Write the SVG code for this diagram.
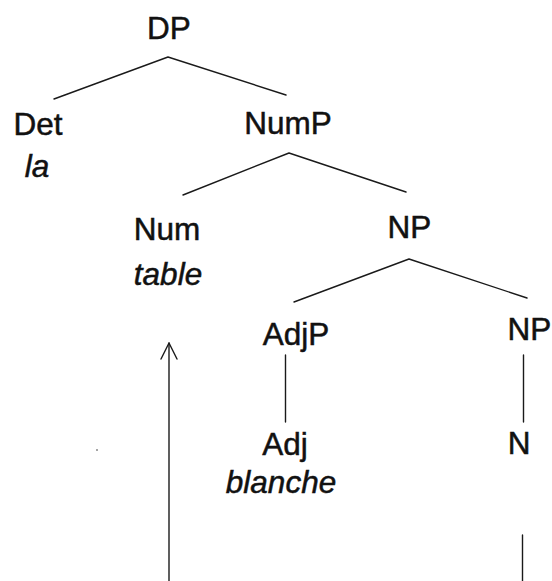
<svg xmlns="http://www.w3.org/2000/svg" width="552" height="581" viewBox="0 0 552 581">
<defs>
<style>
.t{font-family:"Liberation Sans",Arial,sans-serif;font-size:31.5px;fill:#111;stroke:#111;stroke-width:0.5;text-anchor:middle}
.i{font-style:italic}
.e{stroke:#1a1a1a;stroke-width:1.4;fill:none;stroke-linecap:round;stroke-linejoin:round}
</style>
</defs>
<rect width="552" height="581" fill="#fff"/>
<g id="connectors">
<polyline class="e" points="54,99 168,57 286,95"/>
<polyline class="e" points="183,195 289,153 406,192"/>
<polyline class="e" points="294,302 409,259 527,298"/>
<line class="e" x1="285.5" y1="355" x2="285.5" y2="422"/>
<line class="e" x1="523.5" y1="355" x2="523.5" y2="422"/>
<line class="e" x1="522.5" y1="535" x2="522.5" y2="581"/>
<line class="e" x1="169" y1="343" x2="169" y2="581"/>
<polyline class="e" points="161,359 169,343 177,359"/>
</g>
<g id="DP"><text class="t" x="169" y="39">DP</text></g>
<g id="Det"><text class="t" x="38" y="135">Det</text><text class="t i" x="37" y="177">la</text></g>
<g id="NumP"><text class="t" x="288" y="134">NumP</text></g>
<g id="Num"><text class="t" x="167" y="240">Num</text><text class="t i" x="168" y="285">table</text></g>
<g id="NP1"><text class="t" x="409.5" y="238">NP</text></g>
<g id="AdjP"><text class="t" x="296" y="345">AdjP</text></g>
<g id="NP2"><text class="t" x="529.5" y="340">NP</text></g>
<g id="Adj"><text class="t" x="285" y="455">Adj</text><text class="t i" x="281" y="493">blanche</text></g>
<g id="N"><text class="t" x="519" y="454">N</text></g>
<circle cx="97" cy="450" r="0.8" fill="#333"/>
</svg>
